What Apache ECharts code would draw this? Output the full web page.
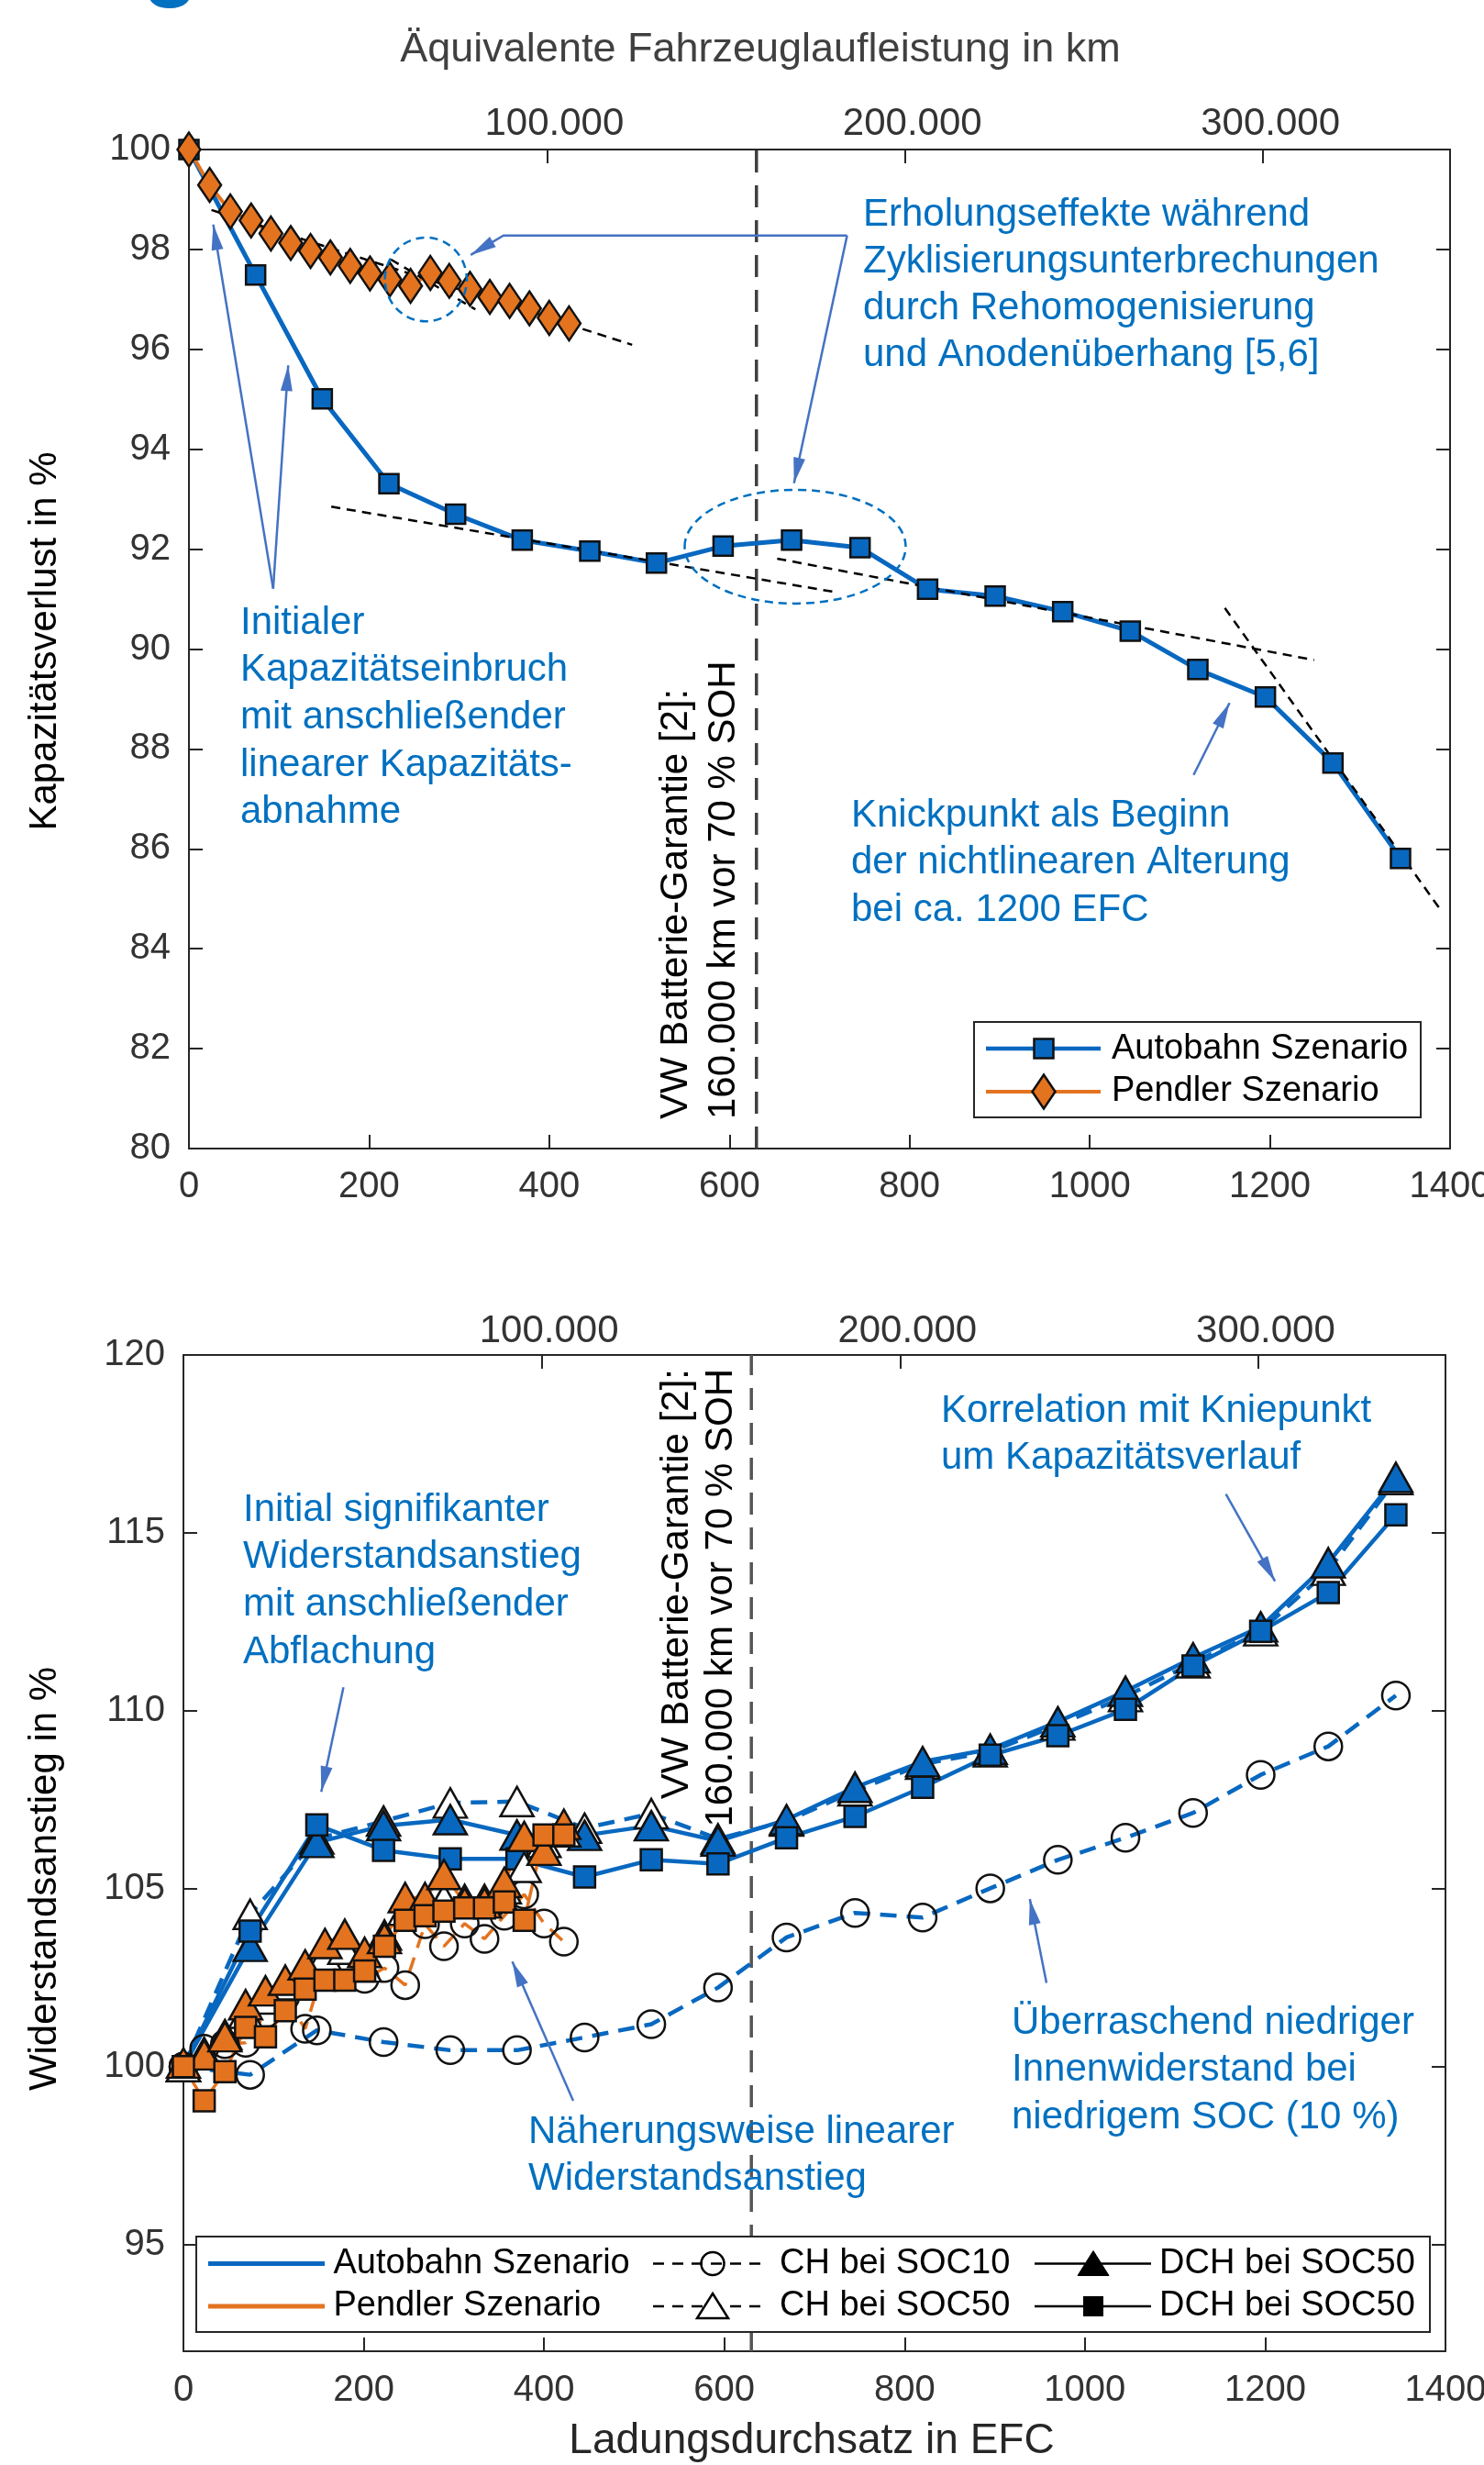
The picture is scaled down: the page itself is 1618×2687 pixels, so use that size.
<!DOCTYPE html>
<html><head><meta charset="utf-8">
<script src="https://cdn.jsdelivr.net/npm/echarts@6/dist/echarts.min.js"></script>
<style>html,body{margin:0;padding:0;background:#fff}#c{width:1618px;height:2687px}</style>
</head><body><div id="c"></div>
<script>
// ---------- DATA ----------
const efcAutobahn = [0, 74, 148, 222, 296, 370, 445, 519, 593, 669, 745, 820, 895, 970, 1045, 1120, 1195, 1270, 1345];
const efcPendler  = [0, 23, 46, 69, 91, 113, 135, 157, 179, 201, 223, 246, 268, 289, 312, 334, 356, 378, 400, 422];

// Kapazitätsverlust in %
const capAutobahn = [100, 97.49, 95.01, 93.31, 92.70, 92.18, 91.96, 91.72, 92.06, 92.18, 92.03, 91.20, 91.06, 90.75, 90.36, 89.59, 89.04, 87.72, 85.81];
const capPendler  = [100, 99.29, 98.76, 98.58, 98.32, 98.13, 97.97, 97.84, 97.67, 97.52, 97.40, 97.27, 97.53, 97.37, 97.21, 97.05, 96.97, 96.82, 96.63, 96.52];

// trend lines (dashed black) [EFC, %]
const trendPendler   = [[25, 98.79], [492, 96.09]];
const trendPendler2  = [[224, 97.80], [318, 96.80]];
const trendAutobahn1 = [[158, 92.85], [721, 91.13]];
const trendAutobahn2 = [[653, 91.81], [1249, 89.78]];
const trendAutobahn3 = [[1150, 90.82], [1389, 84.79]];

// Widerstandsanstieg in %
const resA_CH10   = [100, 99.77, 101.02, 100.69, 100.46, 100.46, 100.82, 101.19, 102.22, 103.63, 104.32, 104.19, 105.01, 105.81, 106.43, 107.13, 108.2, 109.0, 110.43];
const resA_CH50   = [100, 104.28, 106.4, 106.9, 107.41, 107.45, 106.7, 107.11, 106.4, 106.9, 107.75, 108.5, 108.85, 109.6, 110.4, 111.35, 112.25, 113.95, 116.5];
const resA_DCHtri = [100, 103.38, 106.30, 106.77, 106.94, 106.51, 106.5, 106.77, 106.34, 106.94, 107.85, 108.57, 108.92, 109.69, 110.55, 111.49, 112.36, 114.16, 116.56];
const resA_DCHsq  = [100, 103.81, 106.79, 106.08, 105.84, 105.84, 105.33, 105.81, 105.70, 106.43, 107.03, 107.85, 108.75, 109.30, 110.04, 111.26, 112.23, 113.32, 115.51];

const resP_CH10   = [100, 100.50, 100.63, 100.67, 101.49, 101.96, 101.06, 102.90, 102.99, 102.47, 102.77, 102.29, 104.0, 103.38, 104.02, 103.59, 104.24, 104.84, 104.02, 103.51];
const resP_CH50   = [100, 100.4, 100.9, 101.5, 101.9, 102.3, 102.7, 103.1, 103.3, 102.8, 103.7, 104.4, 104.5, 104.7, 104.7, 104.7, 105.0, 105.6, 106.3, 106.6];
const resP_DCHtri = [100.1, 100.33, 100.84, 101.74, 102.13, 102.43, 102.86, 103.46, 103.72, 103.21, 103.6, 104.75, 104.75, 105.40, 104.6, 104.6, 105.18, 106.47, 106.08, 106.81];
const resP_DCHsq  = [100, 99.04, 99.86, 101.10, 100.84, 101.57, 102.18, 102.43, 102.43, 102.69, 103.38, 104.11, 104.24, 104.37, 104.46, 104.46, 104.63, 104.11, 106.51, 106.51];

const warrantyEfc = 630;
const kmPerEfc = 251.6;

// ---------- STYLE ----------
const FONT = "'Liberation Sans', Arial, Helvetica, sans-serif";
const BLUE = '#0868C0', ORANGE = '#E3731F', ANN = '#0070C0', ARROW = '#4472C4', AXIS = '#262626', LBL = '#333333';

const chart = echarts.init(document.getElementById('c'), null, {renderer: 'canvas'});
const zip = (xs, ys) => xs.map((x, i) => [x, ys[i]]);

function xEfc(grid, margin) {
  return {type:'value', gridIndex:grid, position:'bottom', min:0, max:1400, interval:200,
    axisLine:{show:true, onZero:false, lineStyle:{color:AXIS, width:2}},
    axisTick:{show:true, inside:true, length:15, lineStyle:{color:AXIS, width:2}},
    axisLabel:{fontSize:40, color:LBL, margin:margin, fontFamily:FONT, formatter: v => String(v)},
    splitLine:{show:false}};
}
function xKm(grid, margin) {
  return {type:'value', gridIndex:grid, position:'top', min:0, max:1400*kmPerEfc, interval:100000,
    axisLine:{show:true, onZero:false, lineStyle:{color:AXIS, width:2}},
    axisTick:{show:true, inside:true, length:15, lineStyle:{color:AXIS, width:2}},
    axisLabel:{fontSize:42, color:LBL, margin:margin, fontFamily:FONT, showMinLabel:false, showMaxLabel:false,
      padding:[0, 0, 0, 16],
      formatter: v => (v === 0 ? '' : (v/1000) + '.000')},
    splitLine:{show:false}};
}
function yAx(grid, pos, min, max, interval, showLabel) {
  const a = {type:'value', gridIndex:grid, position:pos, min:min, max:max,
    axisLine:{show:true, onZero:false, lineStyle:{color:AXIS, width:2}},
    axisTick:{show:true, inside:true, length:15, lineStyle:{color:AXIS, width:2}},
    axisLabel:{show:showLabel, fontSize:40, color:LBL, margin:20, fontFamily:FONT, showMinLabel: min !== 92, formatter: v => String(v)},
    splitLine:{show:false}};
  if (interval) a.interval = interval;
  return a;
}

function line(xi, yi, data, o) {
  return Object.assign({type:'line', xAxisIndex:xi, yAxisIndex:yi, data:data, animation:false, clip:false,
    silent:true, emphasis:{disabled:true}, symbol:'none'}, o);
}
function dataSeries(xi, yi, xs, ys, color, width, dashed, symbol, size, fill) {
  return line(xi, yi, zip(xs, ys), {
    symbol:symbol, symbolSize:size, showAllSymbol:true,
    lineStyle:{color:color, width:width, type: dashed ? [18, 11] : 'solid'},
    itemStyle:{color:fill, borderColor:'#111', borderWidth:2.5}
  });
}
const dashBlack = {color:'#000', width:2.5, type:[10, 7]};

const series = [
  // top plot
  dataSeries(0, 0, efcAutobahn, capAutobahn, BLUE, 5, false, 'rect', 21, BLUE),
  dataSeries(0, 0, efcPendler, capPendler, ORANGE, 4, false, 'diamond', [25, 37], ORANGE),
  line(0, 0, trendPendler, {lineStyle:dashBlack, z:3}),
  line(0, 0, trendPendler2, {lineStyle:dashBlack, z:3}),
  line(0, 0, trendAutobahn1, {lineStyle:dashBlack, z:3}),
  line(0, 0, trendAutobahn2, {lineStyle:dashBlack, z:3}),
  line(0, 0, trendAutobahn3, {lineStyle:dashBlack, z:3}),
  line(0, 0, [[warrantyEfc, 80], [warrantyEfc, 100]], {lineStyle:{color:'#404040', width:3.5, type:[24, 14]}, z:1}),
  // bottom plot
  line(2, 2, [[warrantyEfc, 92], [warrantyEfc, 120]], {lineStyle:{color:'#555555', width:3.5, type:[24, 14]}, z:1}),
  dataSeries(2, 2, efcAutobahn, resA_CH10, BLUE, 4.5, true, 'circle', 30, 'rgba(0,0,0,0)'),
  dataSeries(2, 2, efcAutobahn, resA_CH50, BLUE, 4.5, true, 'triangle', [36, 32], '#ffffff'),
  dataSeries(2, 2, efcAutobahn, resA_DCHtri, BLUE, 4.5, false, 'triangle', [36, 32], BLUE),
  dataSeries(2, 2, efcAutobahn, resA_DCHsq, BLUE, 4.5, false, 'rect', 23, BLUE),
  dataSeries(2, 2, efcPendler, resP_CH10, ORANGE, 3.5, true, 'circle', 30, 'rgba(0,0,0,0)'),
  dataSeries(2, 2, efcPendler, resP_CH50, ORANGE, 3.5, true, 'triangle', [36, 32], '#ffffff'),
  dataSeries(2, 2, efcPendler, resP_DCHtri, ORANGE, 3.5, false, 'triangle', [36, 32], ORANGE),
  dataSeries(2, 2, efcPendler, resP_DCHsq, ORANGE, 3.5, false, 'rect', 23, ORANGE)
];

chart.setOption({
  backgroundColor:'#ffffff',
  animation:false,
  grid:[
    {left:206, top:163, width:1375, height:1089, containLabel:false, outerBoundsMode:'none'},
    {left:200, top:1477, width:1376, height:1086, containLabel:false, outerBoundsMode:'none'}
  ],
  xAxis:[xEfc(0, 22), xKm(0, 7), xEfc(1, 23), xKm(1, 5)],
  yAxis:[yAx(0,'left',80,100,2,true), yAx(0,'right',80,100,2,false), yAx(1,'left',92,120,null,true), yAx(1,'right',92,120,null,false)],
  series:series
});

// ---------- ANNOTATIONS ----------
const px = (g, p) => g === 0 ? chart.convertToPixel({xAxisIndex:0, yAxisIndex:0}, p)
                              : chart.convertToPixel({xAxisIndex:2, yAxisIndex:2}, p);
const G = [];
function txt(x, y, text, size, color, o) {
  G.push(Object.assign({type:'text', x:x, y:y, z:30, silent:true,
    style:Object.assign({text:text, fontSize:size, fontFamily:FONT, fill:color, align:'left', verticalAlign:'middle'}, (o && o.style) || {})},
    o ? {rotation:o.rotation || 0} : {}));
}
function block(x, y0, lines, step) { lines.forEach((l, i) => txt(x, y0 + i*step, l, 42, ANN)); }
function arrow(pts) {
  G.push({type:'polyline', z:25, silent:true, shape:{points:pts}, style:{stroke:ARROW, lineWidth:2.5, fill:null}});
  const n = pts.length, tip = pts[n-1], prev = pts[n-2];
  const dx = tip[0]-prev[0], dy = tip[1]-prev[1], L0 = Math.hypot(dx, dy), ux = dx/L0, uy = dy/L0;
  const L = 28, W = 6.5, bx = tip[0]-ux*L, by = tip[1]-uy*L;
  G.push({type:'polygon', z:26, silent:true, shape:{points:[tip, [bx-uy*W, by+ux*W], [bx+uy*W, by-ux*W]]}, style:{fill:ARROW}});
}
function ellipse(g, c, rx, ry) {
  const p = px(g, c);
  G.push({type:'ellipse', z:25, silent:true, shape:{cx:p[0], cy:p[1], rx:rx, ry:ry}, style:{fill:null, stroke:ANN, lineWidth:2.5, lineDash:[9, 6]}});
}

// cut-off heading glyph
G.push({type:'text', x:186, y:10, z:30, silent:true, style:{text:'g', fontSize:100, fontWeight:'bold', fontFamily:FONT, fill:ANN, align:'center', verticalAlign:'bottom'}});

// titles
txt(829, 55, 'Äquivalente Fahrzeuglaufleistung in km', 45, '#404040', {style:{align:'center'}});
txt(885, 2661, 'Ladungsdurchsatz in EFC', 46, '#262626', {style:{align:'center'}});
txt(49, 699, 'Kapazitätsverlust in %', 42, '#000', {rotation:Math.PI/2, style:{align:'center'}});
txt(49, 2048, 'Widerstandsanstieg in %', 42, '#000', {rotation:Math.PI/2, style:{align:'center'}});

// warranty labels
txt(737, 1220, 'VW Batterie-Garantie [2]:', 42, '#000', {rotation:Math.PI/2});
txt(789, 1220, '160.000 km vor 70 % SOH', 42, '#000', {rotation:Math.PI/2});
txt(738, 1492, 'VW Batterie-Garantie [2]:', 42, '#000', {rotation:Math.PI/2, style:{align:'right'}});
txt(786, 1492, '160.000 km vor 70 % SOH', 42, '#000', {rotation:Math.PI/2, style:{align:'right'}});

// top plot annotations
block(941, 234, ['Erholungseffekte während', 'Zyklisierungsunterbrechungen', 'durch Rehomogenisierung', 'und Anodenüberhang [5,6]'], 51);
block(262, 679, ['Initialer', 'Kapazitätseinbruch', 'mit anschließender', 'linearer Kapazitäts-', 'abnahme'], 51.7);
block(928, 889, ['Knickpunkt als Beginn', 'der nichtlinearen Alterung', 'bei ca. 1200 EFC'], 51.6);
ellipse(0, [263, 97.40], 44.6, 45.7);
ellipse(0, [673, 92.05], 120.5, 62);
arrow([px(0,[93.5,91.21]), px(0,[27,98.50])]);
arrow([px(0,[93.5,91.21]), px(0,[110.2,95.68])]);
arrow([px(0,[730.6,98.28]), px(0,[349.2,98.28]), px(0,[312.8,97.89])]);
arrow([px(0,[730.6,98.28]), px(0,[671.7,93.32])]);
arrow([px(0,[1115.3,87.48]), px(0,[1155.2,88.92])]);

// bottom plot annotations
block(265, 1646, ['Initial signifikanter', 'Widerstandsanstieg', 'mit anschließender', 'Abflachung'], 51.7);
block(1026, 1538, ['Korrelation mit Kniepunkt', 'um Kapazitätsverlauf'], 51.2);
block(576, 2324, ['Näherungsweise linearer', 'Widerstandsanstieg'], 51.8);
block(1103, 2205, ['Überraschend niedriger', 'Innenwiderstand bei', 'niedrigem SOC (10 %)'], 51.6);
arrow([px(1,[177.5,110.66]), px(1,[152.9,107.72])]);
arrow([px(1,[1156.4,116.09]), px(1,[1210.9,113.64])]);
arrow([px(1,[432.4,99.04]), px(1,[364.8,102.95])]);
arrow([px(1,[957.4,102.35]), px(1,[938.9,104.71])]);

// ---------- LEGENDS ----------
function lg(el) { el.z = 40; el.silent = true; G.push(el); }
// top legend
lg({type:'rect', shape:{x:1062, y:1114, width:487, height:104}, style:{fill:'#fff', stroke:AXIS, lineWidth:2}});
lg({type:'line', shape:{x1:1075, y1:1143, x2:1200, y2:1143}, style:{stroke:BLUE, lineWidth:4.5}});
lg({type:'rect', shape:{x:1127.5, y:1132.5, width:21, height:21}, style:{fill:BLUE, stroke:'#111', lineWidth:2.5}});
lg({type:'line', shape:{x1:1075, y1:1190, x2:1200, y2:1190}, style:{stroke:ORANGE, lineWidth:4}});
lg({type:'polygon', shape:{points:[[1138,1171.5],[1150.5,1190],[1138,1208.5],[1125.5,1190]]}, style:{fill:ORANGE, stroke:'#111', lineWidth:2.5}});
[['Autobahn Szenario',1144],['Pendler Szenario',1190]].forEach(r => lg({type:'text', x:1212, y:r[1], style:{text:r[0], fontSize:38, fontFamily:FONT, fill:'#000', align:'left', verticalAlign:'middle'}}));

// bottom legend
lg({type:'rect', shape:{x:214, y:2438, width:1345, height:104}, style:{fill:'#fff', stroke:AXIS, lineWidth:2}});
const r1 = 2467.5, r2 = 2514;
lg({type:'line', shape:{x1:227, y1:r1, x2:354, y2:r1}, style:{stroke:BLUE, lineWidth:5}});
lg({type:'line', shape:{x1:227, y1:r2, x2:354, y2:r2}, style:{stroke:ORANGE, lineWidth:5}});
lg({type:'line', shape:{x1:712, y1:r1, x2:838, y2:r1}, style:{stroke:'#000', lineWidth:2.5, lineDash:[12, 9]}});
lg({type:'line', shape:{x1:712, y1:r2, x2:838, y2:r2}, style:{stroke:'#000', lineWidth:2.5, lineDash:[12, 9]}});
lg({type:'circle', shape:{cx:777, cy:r1, r:12.5}, style:{fill:null, stroke:'#000', lineWidth:2.5}});
lg({type:'polygon', shape:{points:[[777,r2-14],[794,r2+13],[760,r2+13]]}, style:{fill:'#fff', stroke:'#000', lineWidth:2.5}});
lg({type:'line', shape:{x1:1128, y1:r1, x2:1255, y2:r1}, style:{stroke:'#000', lineWidth:2.5}});
lg({type:'line', shape:{x1:1128, y1:r2, x2:1255, y2:r2}, style:{stroke:'#000', lineWidth:2.5}});
lg({type:'polygon', shape:{points:[[1192,r1-14],[1209,r1+13],[1175,r1+13]]}, style:{fill:'#000', stroke:'#000', lineWidth:1}});
lg({type:'rect', shape:{x:1181, y:r2-11, width:22, height:22}, style:{fill:'#000'}});
[['Autobahn Szenario',363.5,r1],['Pendler Szenario',363.5,r2],['CH bei SOC10',850,r1],['CH bei SOC50',850,r2],['DCH bei SOC50',1264,r1],['DCH bei SOC50',1264,r2]]
  .forEach(t => lg({type:'text', x:t[1], y:t[2], style:{text:t[0], fontSize:38, fontFamily:FONT, fill:'#000', align:'left', verticalAlign:'middle'}}));

chart.setOption({graphic:{elements:G}});
</script></body></html>
